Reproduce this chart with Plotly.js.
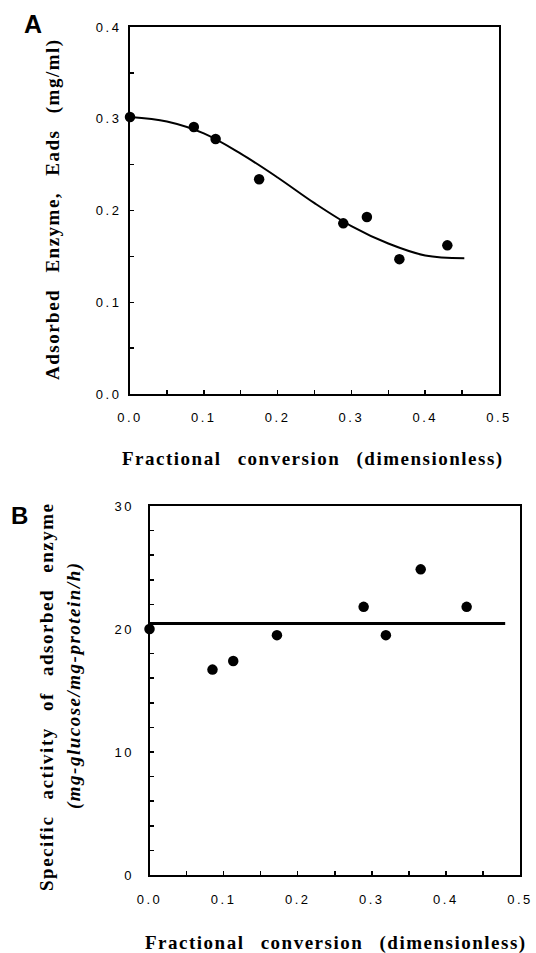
<!DOCTYPE html>
<html>
<head>
<meta charset="utf-8">
<script src="https://cdn.plot.ly/plotly-3.0.1.min.js"></script>
<style>
  html, body { margin: 0; padding: 0; background: #fff; }
  #chart { width: 536px; height: 953px; }
  text.annotation-text { letter-spacing: 1.5px; word-spacing: 10px; }
  .xtick text, .ytick text, .x2tick text, .y2tick text { letter-spacing: 2.5px; }
</style>
</head>
<body>
<div id="chart"></div>
<script>
// Panel A: adsorbed enzyme vs fractional conversion
const convA = [0.0, 0.0865, 0.116, 0.175, 0.289, 0.321, 0.365, 0.430];
const eadsA = [0.302, 0.291, 0.278, 0.234, 0.186, 0.193, 0.147, 0.162];
// fitted curve
const fitX = [0.0, 0.05, 0.10, 0.15, 0.20, 0.25, 0.30, 0.35, 0.40, 0.453];
const fitY = [0.302, 0.297, 0.284, 0.262, 0.236, 0.208, 0.183, 0.164, 0.151, 0.148];

// Panel B: specific activity vs fractional conversion
const convB = [0.0, 0.085, 0.113, 0.172, 0.289, 0.319, 0.366, 0.428];
const actB = [20.0, 16.7, 17.4, 19.5, 21.8, 19.5, 24.85, 21.8];
const meanX = [0.0, 0.48];
const meanY = [20.45, 20.45];

const titleX = 'Fractional conversion (dimensionless)';
const titleYA = 'Adsorbed Enzyme, Eads (mg/ml)';
const titleYB1 = 'Specific activity of adsorbed enzyme';
const titleYB2 = '(mg-glucose/mg-protein/h)';

const W = 536, H = 953;
const px = v => v / W;
const py = v => 1 - v / H;

const marker = {color: '#000', size: 10.5, line: {width: 0}};

const traces = [
  {x: fitX, y: fitY, xaxis: 'x', yaxis: 'y', mode: 'lines',
   line: {color: '#000', width: 2, shape: 'spline', smoothing: 1}, cliponaxis: false, hoverinfo: 'skip'},
  {x: convA, y: eadsA, xaxis: 'x', yaxis: 'y', mode: 'markers', marker: marker, cliponaxis: false},
  {x: meanX, y: meanY, xaxis: 'x2', yaxis: 'y2', mode: 'lines',
   line: {color: '#000', width: 3}, cliponaxis: false, hoverinfo: 'skip'},
  {x: convB, y: actB, xaxis: 'x2', yaxis: 'y2', mode: 'markers', marker: marker, cliponaxis: false}
];

const tickFont = {family: 'Liberation Sans, Arial, sans-serif', size: 13, color: '#000'};
function minor(d) {
  return {ticks: 'inside', ticklen: 4, tickwidth: 1.5, tickcolor: '#000', dtick: d, showgrid: false};
}
function axis(extra) {
  return Object.assign({
    showline: true, linecolor: '#000', linewidth: 2, mirror: true,
    showgrid: false, zeroline: false,
    ticks: 'inside', ticklen: 4, tickwidth: 1.5, tickcolor: '#000',
    tickfont: tickFont
  }, extra);
}

const serif = 'Liberation Serif, Times New Roman, serif';
const layout = {
  width: W, height: H,
  margin: {l: 0, r: 0, t: 0, b: 0},
  paper_bgcolor: '#fff', plot_bgcolor: '#fff',
  showlegend: false,
  xaxis: axis({domain: [px(130), px(499)], anchor: 'y', range: [0, 0.5], tick0: 0, dtick: 0.1,
               tickformat: '.1f', minor: minor(0.05), ticklabelstandoff: 10}),
  yaxis: axis({domain: [py(394), py(27)], anchor: 'x', range: [0, 0.4], tick0: 0, dtick: 0.1,
               tickformat: '.1f', minor: minor(0.05), ticklabelstandoff: 4}),
  xaxis2: axis({domain: [px(149.5), px(520)], anchor: 'y2', range: [0, 0.5], tick0: 0, dtick: 0.1,
               tickformat: '.1f', minor: minor(0.05), ticklabelstandoff: 11}),
  yaxis2: axis({domain: [py(875), py(506)], anchor: 'x2', range: [0, 30], tick0: 0, dtick: 10,
               minor: minor(2), ticklabelstandoff: 11}),
  annotations: [
    {text: 'A', x: px(34), y: py(24), xref: 'paper', yref: 'paper', xanchor: 'center', yanchor: 'middle',
     showarrow: false, font: {family: 'Liberation Sans, Arial, sans-serif', size: 25, weight: 'bold', color: '#000'}},
    {text: 'B', x: px(20), y: py(515), xref: 'paper', yref: 'paper', xanchor: 'center', yanchor: 'middle',
     showarrow: false, font: {family: 'Liberation Sans, Arial, sans-serif', size: 24, weight: 'bold', color: '#000'}},
    {text: titleX, x: px(313), y: py(459), xref: 'paper', yref: 'paper', xanchor: 'center', yanchor: 'middle',
     showarrow: false, font: {family: serif, size: 19, weight: 'bold', color: '#000'}},
    {text: titleX, x: px(336), y: py(943), xref: 'paper', yref: 'paper', xanchor: 'center', yanchor: 'middle',
     showarrow: false, font: {family: serif, size: 19, weight: 'bold', color: '#000'}},
    {text: titleYA, x: px(53), y: py(209), xref: 'paper', yref: 'paper', xanchor: 'center', yanchor: 'middle',
     textangle: -90, showarrow: false, font: {family: serif, size: 19, weight: 'bold', color: '#000'}},
    {text: titleYB1, x: px(46), y: py(697), xref: 'paper', yref: 'paper', xanchor: 'center', yanchor: 'middle',
     textangle: -90, showarrow: false, font: {family: serif, size: 19, weight: 'bold', color: '#000'}},
    {text: titleYB2, x: px(74), y: py(685), xref: 'paper', yref: 'paper', xanchor: 'center', yanchor: 'middle',
     textangle: -90, showarrow: false, font: {family: serif, size: 19, weight: 'bold', style: 'italic', color: '#000'}}
  ]
};

Plotly.newPlot('chart', traces, layout, {staticPlot: true, displayModeBar: false});
</script>
</body>
</html>
